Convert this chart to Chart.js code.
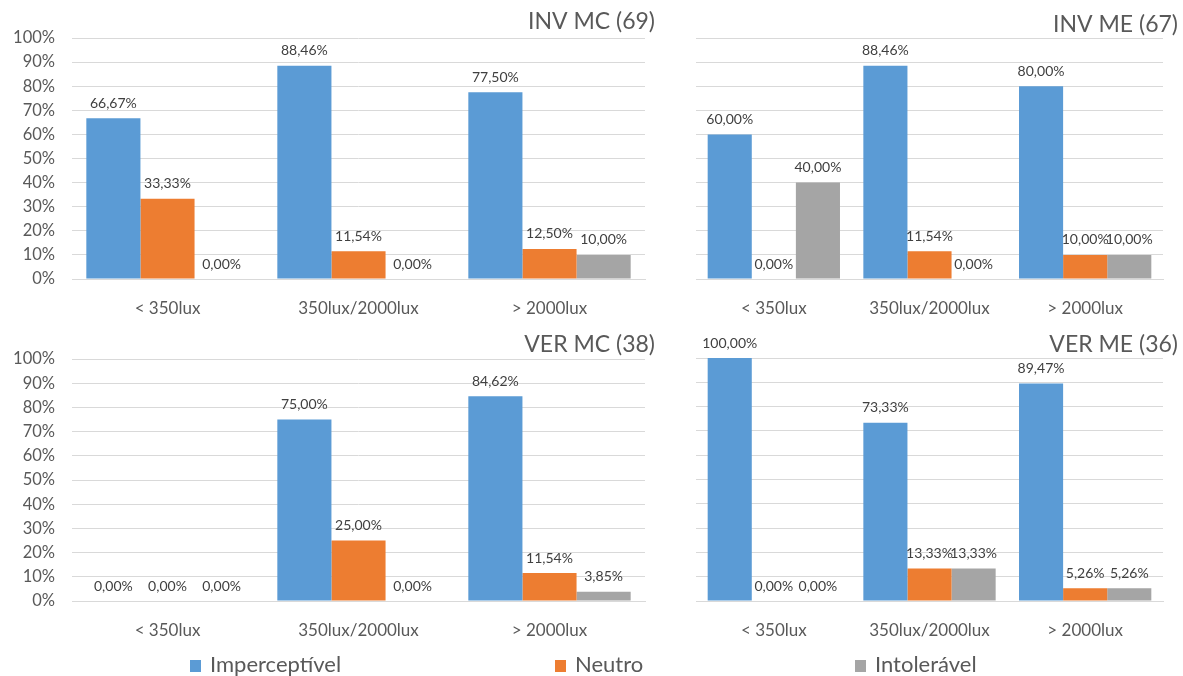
<!DOCTYPE html>
<html>
<head>
<meta charset="utf-8">
<script src="https://cdn.jsdelivr.net/npm/chart.js@4"></script>
<style>
  body { margin: 0; background: #fff; width: 1183px; height: 676px; overflow: hidden; position: relative; }
  canvas { position: absolute; }
</style>
</head>
<body>
<canvas id="invMC" width="660" height="320" style="left:0;top:0"></canvas>
<canvas id="invME" width="523" height="320" style="left:660px;top:0"></canvas>
<canvas id="verMC" width="660" height="322" style="left:0;top:320px"></canvas>
<canvas id="verME" width="523" height="322" style="left:660px;top:320px"></canvas>
<canvas id="legend" width="1183" height="34" style="left:0;top:642px"></canvas>
<script>
// 🔹 DATA
const categories = ["< 350lux", "350lux/2000lux", "> 2000lux"];
const seriesNames = ["Imperceptível", "Neutro", "Intolerável"];
const seriesColors = ["#5B9BD5", "#ED7D31", "#A5A5A5"];

const invMcImperceptivel = [66.67, 88.46, 77.50];
const invMcNeutro = [33.33, 11.54, 12.50];
const invMcIntoleravel = [0, 0, 10.00];

const invMeImperceptivel = [60.00, 88.46, 80.00];
const invMeNeutro = [0, 11.54, 10.00];
const invMeIntoleravel = [40.00, 0, 10.00];

const verMcImperceptivel = [0, 75.00, 84.62];
const verMcNeutro = [0, 25.00, 11.54];
const verMcIntoleravel = [0, 0, 3.85];

const verMeImperceptivel = [100.00, 73.33, 89.47];
const verMeNeutro = [0, 13.33, 5.26];
const verMeIntoleravel = [0, 13.33, 5.26];

const FONT = "Lato";
const GREY = "#595959";

// 🔥 value labels above bars (0,00% style)
function fmt(v) {
    return v.toFixed(2).replace(".", ",") + "%";
}

const valueLabels = {
    id: "valueLabels",
    afterDatasetsDraw(chart) {
        const ctx = chart.ctx;
        ctx.save();
        ctx.font = "14px " + FONT;
        ctx.fillStyle = "#404040";
        ctx.textAlign = "center";
        ctx.textBaseline = "middle";
        chart.data.datasets.forEach((ds, i) => {
            chart.getDatasetMeta(i).data.forEach((bar, j) => {
                ctx.fillText(fmt(ds.data[j]), bar.x, bar.y - 15);
            });
        });
        ctx.restore();
    }
};

// 🔥 panel title top-right
const panelTitle = {
    id: "panelTitle",
    afterDraw(chart, args, opts) {
        if (!opts.text) return;
        const ctx = chart.ctx;
        ctx.save();
        ctx.font = "23px " + FONT;
        ctx.fillStyle = GREY;
        ctx.textAlign = "right";
        ctx.textBaseline = "middle";
        ctx.fillText(opts.text, chart.chartArea.right + opts.dx, chart.chartArea.top - opts.dy);
        ctx.restore();
    }
};

// 🔥 PANEL
function makePanel(id, title, imp, neu, intol, cfg) {
    const data = [imp, neu, intol];
    new Chart(document.getElementById(id), {
        type: "bar",
        data: {
            labels: categories,
            datasets: seriesNames.map((name, i) => ({
                label: name,
                data: data[i],
                backgroundColor: seriesColors[i],
                categoryPercentage: 0.85,
                barPercentage: 1.0
            }))
        },
        options: {
            responsive: false,
            animation: false,
            layout: { padding: { top: cfg.top, right: cfg.right, left: 0, bottom: 0 } },
            plugins: {
                legend: { display: false },
                tooltip: { enabled: false },
                panelTitle: { text: title, dx: cfg.titleDx, dy: cfg.titleDy }
            },
            scales: {
                x: {
                    grid: { display: false },
                    border: { display: true, color: "#D9D9D9" },
                    ticks: { font: { family: FONT, size: 17 }, color: GREY, padding: 11 },
                    afterFit(scale) { scale.height = 41; }
                },
                y: {
                    min: 0,
                    max: 100,
                    grid: { color: "#D9D9D9", drawTicks: false },
                    border: { display: false },
                    ticks: {
                        display: cfg.yLabels,
                        stepSize: 10,
                        padding: 17,
                        font: { family: FONT, size: 16.5 },
                        color: GREY,
                        callback: v => v + "%"
                    },
                    afterFit(scale) { scale.width = cfg.yWidth; }
                }
            }
        },
        plugins: [valueLabels, panelTitle]
    });
}

const leftCfg = { top: 38, right: 15, yWidth: 72, yLabels: true, titleDx: 10, titleDy: 16 };
const rightCfg = { top: 38, right: 20, yWidth: 36, yLabels: false, titleDx: 15, titleDy: 13 };

makePanel("invMC", "INV MC (69)", invMcImperceptivel, invMcNeutro, invMcIntoleravel, leftCfg);
makePanel("invME", "INV ME (67)", invMeImperceptivel, invMeNeutro, invMeIntoleravel, rightCfg);
makePanel("verMC", "VER MC (38)", verMcImperceptivel, verMcNeutro, verMcIntoleravel,
    Object.assign({}, leftCfg, { top: 39, titleDy: 14 }));
makePanel("verME", "VER ME (36)", verMeImperceptivel, verMeNeutro, verMeIntoleravel, rightCfg);

// 🔥 LEGEND (shared, Excel-like spread)
const legendX = [190, 555, 855];
const legendRow = {
    id: "legendRow",
    afterDraw(chart) {
        const ctx = chart.ctx;
        ctx.save();
        ctx.font = "22px " + FONT;
        ctx.textBaseline = "middle";
        chart.data.datasets.forEach((ds, i) => {
            const x = legendX[i];
            ctx.fillStyle = ds.backgroundColor;
            ctx.fillRect(x, 18, 11, 12);
            ctx.fillStyle = GREY;
            ctx.fillText(ds.label, x + 20, 23);
        });
        ctx.restore();
    }
};

new Chart(document.getElementById("legend"), {
    type: "bar",
    data: {
        labels: [],
        datasets: seriesNames.map((name, i) => ({ label: name, data: [], backgroundColor: seriesColors[i] }))
    },
    options: {
        responsive: false,
        animation: false,
        plugins: { legend: { display: false }, tooltip: { enabled: false } },
        scales: { x: { display: false }, y: { display: false } }
    },
    plugins: [legendRow]
});
</script>
</body>
</html>
